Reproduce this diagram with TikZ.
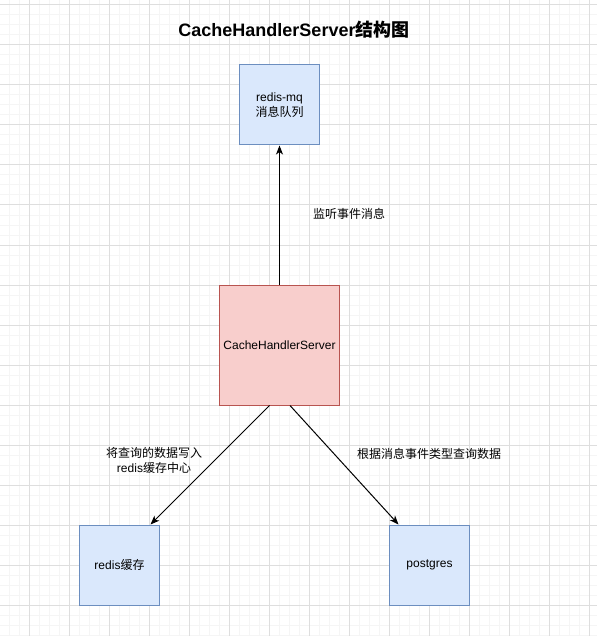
\documentclass[tikz,border=0pt]{standalone}
\usepackage{fontspec}
\setmainfont{Liberation Sans}
\newfontfamily\cjk{Noto Sans CJK SC}
\usetikzlibrary{arrows.meta}
\definecolor{bluefill}{HTML}{DAE8FC}
\definecolor{bluedraw}{HTML}{6C8EBF}
\definecolor{redfill}{HTML}{F8CECC}
\definecolor{reddraw}{HTML}{B85450}
\definecolor{minorc}{HTML}{F5F5F5}
\definecolor{majorc}{HTML}{DEDEDE}
\tikzset{
  minorgrid/.style={draw=minorc, line width=1pt},
  majorgrid/.style={draw=majorc, line width=1pt},
  bluebox/.style={draw=bluedraw, fill=bluefill, line width=1pt, minimum width=80pt, minimum height=80pt, inner sep=0pt, align=center, font=\fontsize{12}{15}\selectfont},
  redbox/.style={draw=reddraw, fill=redfill, line width=1pt, minimum width=120pt, minimum height=120pt, inner sep=0pt, align=center, font=\fontsize{12}{15}\selectfont},
  lbl/.style={align=center, inner sep=1pt, font=\fontsize{12}{15}\selectfont},
  conn/.style={draw=black, line width=1pt, -{Stealth[length=9pt,width=7pt,inset=2.5pt]}}
}
\begin{document}
\begin{tikzpicture}[x=1pt,y=-1pt]
\useasboundingbox (0,0) rectangle (597,636);
\fill[white] (0,0) rectangle (597,636);
\foreach \i in {0,...,60}{\draw[minorgrid] ({-0.5+10*\i},0) -- ({-0.5+10*\i},636);}
\foreach \i in {0,...,63}{\draw[minorgrid] (0,{5+10*\i}) -- (597,{5+10*\i});}
\foreach \i in {0,...,14}{\draw[majorgrid] ({29.5+40*\i},0) -- ({29.5+40*\i},636);}
\foreach \i in {0,...,15}{\draw[majorgrid] (0,{5+40*\i}) -- (597,{5+40*\i});}

\node[font=\fontsize{18}{21}\selectfont\bfseries] (title) at (294,30) {CacheHandlerServer{\cjk 结构图}};

\node[bluebox] (mq) at (279.5,105) {redis-mq\\{\cjk 消息队列}};
\node[redbox] (srv) at (279.5,345) {CacheHandlerServer};
\node[bluebox] (rc) at (119.5,565) {redis{\cjk 缓存}};
\node[bluebox] (pg) at (429.5,565) {postgres};

\coordinate (s1) at ([xshift=-10pt]srv.south);
\coordinate (s2) at ([xshift=10.5pt]srv.south);
\coordinate (e1) at ([xshift=31pt]rc.north);
\coordinate (e2) at ([xshift=-31pt]pg.north);

\draw[conn] (srv.north) -- (mq.south);
\draw[conn] (s1) -- (e1);
\draw[conn] (s2) -- (e2);

\node[lbl] (l1) at (349,214) {\cjk 监听事件消息};
\node[lbl] (l2) at (154,460) {{\cjk 将查询的数据写入}\\redis{\cjk 缓存中心}};
\node[lbl] (l3) at (429,454) {\cjk 根据消息事件类型查询数据};
\end{tikzpicture}
\end{document}
